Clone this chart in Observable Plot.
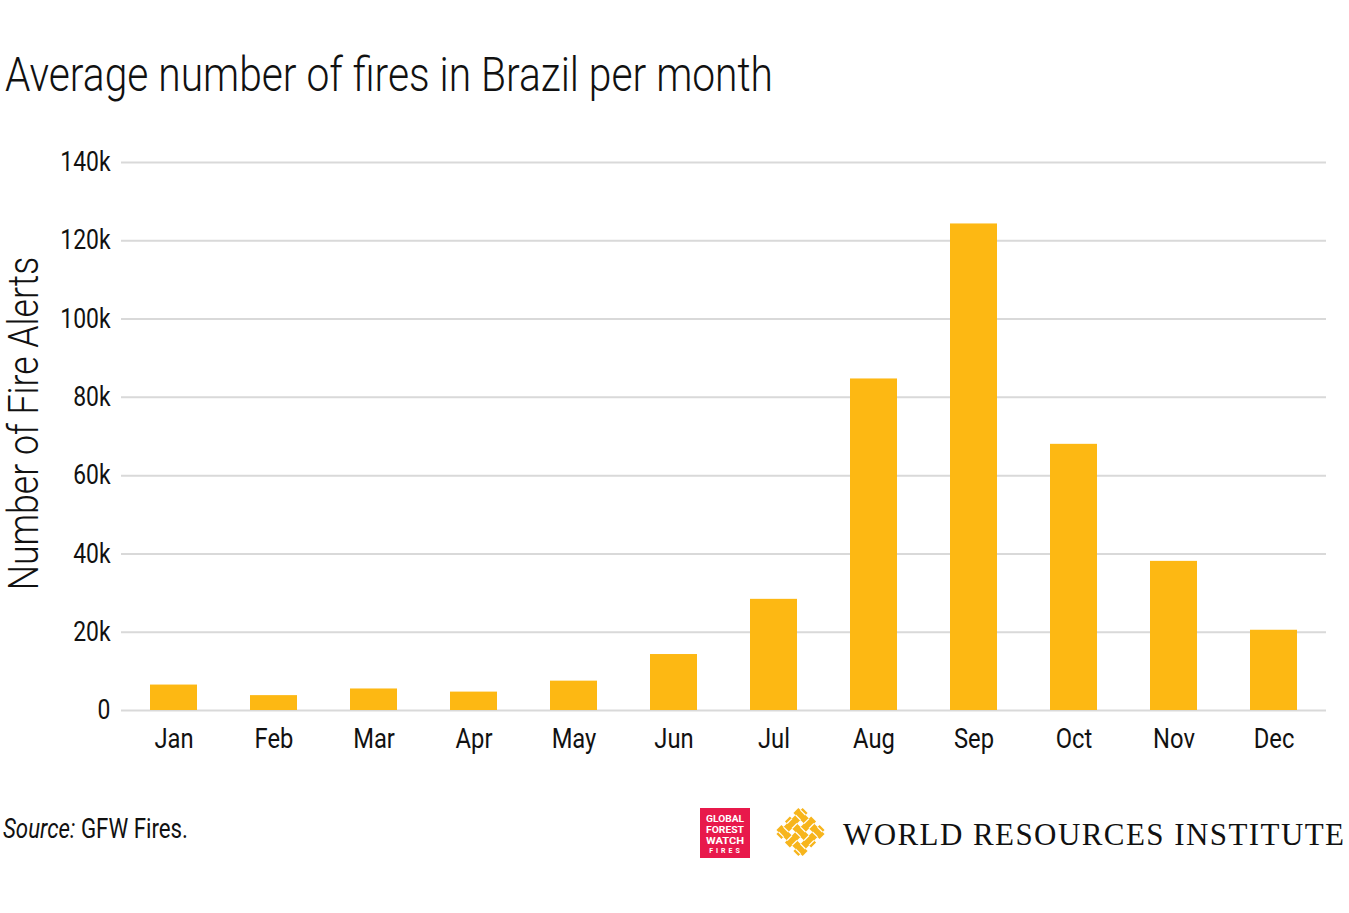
<!DOCTYPE html>
<html>
<head>
<meta charset="utf-8">
<script src="https://cdn.jsdelivr.net/npm/d3@7"></script>
<script src="https://cdn.jsdelivr.net/npm/@observablehq/plot@0.6"></script>
<style>
  html, body { margin: 0; padding: 0; background: #fff; }
  body { width: 1349px; height: 913px; position: relative; overflow: hidden;
         font-family: Roboto, "Noto Sans", sans-serif; color: #111; }
  #title { position: absolute; left: 5px; top: 51px; font-size: 48px; line-height: 48px; font-weight: 300; white-space: nowrap; transform-origin: 0 0; }
  #chart { position: absolute; left: 0; top: 120px; }
  #source { position: absolute; left: 3px; top: 816px; font-size: 27px; line-height: 27px; white-space: nowrap; transform-origin: 0 0; }
  #logos { position: absolute; left: 700px; top: 806px; }
</style>
</head>
<body>
<div id="title">Average number of fires in Brazil per month</div>
<div id="chart"></div>
<div id="source"><i>Source:</i> GFW Fires.</div>
<div id="logos"></div>
<script>
const months = ["Jan","Feb","Mar","Apr","May","Jun","Jul","Aug","Sep","Oct","Nov","Dec"];
const fires = [6500, 3800, 5500, 4700, 7500, 14300, 28400, 84700, 124300, 68000, 38100, 20500];
const yTicks = [0, 20000, 40000, 60000, 80000, 100000, 120000, 140000];
const yTickLabels = ["0","20k","40k","60k","80k","100k","120k","140k"];
const yLabel = "Number of Fire Alerts";

const data = months.map((m, i) => ({month: m, fires: fires[i]}));
const FONT = 'Roboto, "Noto Sans", sans-serif';

// horizontal condensing ratio derived from the title's target width
const titleEl = document.getElementById("title");
const r = 768 / titleEl.getBoundingClientRect().width;
titleEl.style.transform = `scaleX(${r})`;
const rs = 185 / document.getElementById("source").getBoundingClientRect().width;
document.getElementById("source").style.transform = `scaleX(${rs})`;

const chart = Plot.plot({
  width: 1349,
  height: 650,
  marginTop: 42,
  marginBottom: 60,
  marginLeft: 121,
  marginRight: 23,
  style: {fontFamily: FONT, color: "#111", background: "transparent"},
  x: {domain: months, paddingInner: 0.53, paddingOuter: 0.265, label: null},
  y: {domain: [0, 140000], label: null},
  marks: [
    Plot.gridY(yTicks, {stroke: "#d9d9d9", strokeOpacity: 1, strokeWidth: 2}),
    Plot.barY(data, {x: "month", y: "fires", fill: "#FDB813"}),
    Plot.axisY(yTicks, {tickSize: 0, tickPadding: 11, fontSize: 27, label: null,
      tickFormat: d => yTickLabels[yTicks.indexOf(d)]}),
    Plot.axisX({tickSize: 0, tickPadding: 18, fontSize: 28, label: null}),
    Plot.text([yLabel], {frameAnchor: "left", textAnchor: "middle", lineAnchor: "middle",
      rotate: -90, fontSize: 42, fontWeight: 300, dx: -97, dy: -13, fill: "#111"})
  ]
});
d3.select(chart).selectAll("text").attr("transform", function() {
  return (this.getAttribute("transform") || "") + ` scale(${r},1)`;
});
document.getElementById("chart").appendChild(chart);

// logos
const logos = d3.select("#logos").append("svg").attr("width", 649).attr("height", 60);
const g1 = logos.append("g");
g1.append("rect").attr("x", 0).attr("y", 2).attr("width", 50).attr("height", 50).attr("fill", "#E8194B");
["GLOBAL","FOREST","WATCH"].forEach((t, i) => {
  g1.append("text").attr("x", 25).attr("y", 16 + i * 11).attr("text-anchor", "middle")
    .attr("font-family", FONT).attr("font-weight", "bold").attr("font-size", 9.5)
    .attr("textLength", 38).attr("lengthAdjust", "spacingAndGlyphs")
    .attr("fill", "#fff").text(t);
});
g1.append("text").attr("x", 26).attr("y", 47).attr("text-anchor", "middle")
  .attr("font-family", FONT).attr("font-weight", "bold").attr("font-size", 7).attr("letter-spacing", 3)
  .attr("fill", "#fff").text("FIRES");
// WRI woven diamond
const g2 = logos.append("g").attr("transform", "translate(100.5,26) rotate(45)");
const side = 37, sw = 7, pos = [-12, 0, 12];
const Y = "#F7B51C";
pos.forEach(k => g2.append("rect").attr("x", -side/2).attr("y", k - sw/2).attr("width", side).attr("height", sw).attr("fill", Y));
pos.forEach(k => g2.append("rect").attr("y", -side/2).attr("x", k - sw/2).attr("height", side).attr("width", sw).attr("fill", Y));
pos.forEach((h, i) => pos.forEach((v, j) => {
  if ((i + j) % 2 === 0) {
    [h - sw/2, h + sw/2].forEach(yy => g2.append("line").attr("x1", v - sw/2).attr("x2", v + sw/2)
      .attr("y1", yy).attr("y2", yy).attr("stroke", "#fff").attr("stroke-width", 1.2));
  } else {
    [v - sw/2, v + sw/2].forEach(xx => g2.append("line").attr("y1", h - sw/2).attr("y2", h + sw/2)
      .attr("x1", xx).attr("x2", xx).attr("stroke", "#fff").attr("stroke-width", 1.2));
  }
}));
logos.append("text").attr("x", 143).attr("y", 39).attr("font-family", '"Liberation Serif", "DejaVu Serif", serif')
  .attr("font-size", 31).attr("textLength", 501).attr("lengthAdjust", "spacing")
  .attr("fill", "#111").text("WORLD RESOURCES INSTITUTE");
</script>
</body>
</html>
